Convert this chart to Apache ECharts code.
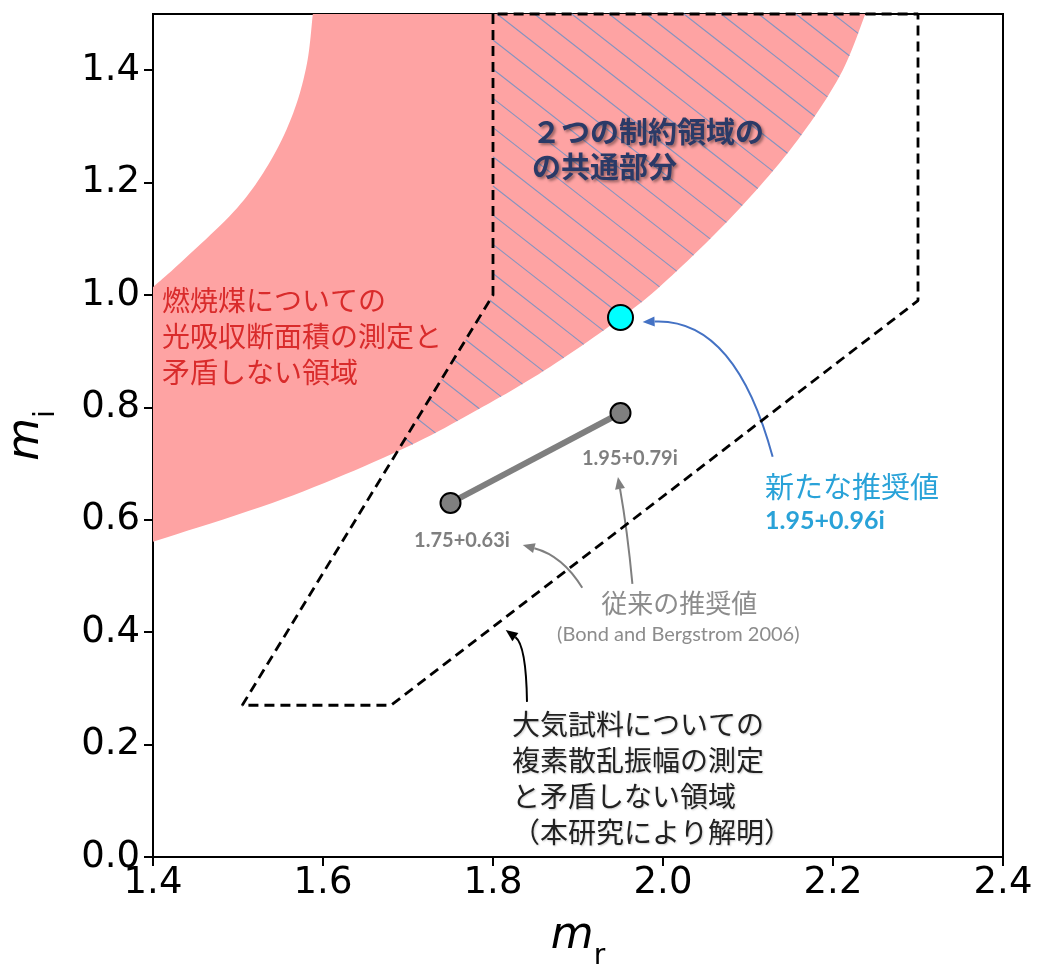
<!DOCTYPE html>
<html>
<head>
<meta charset="utf-8">
<script src="https://cdn.jsdelivr.net/npm/echarts/dist/echarts.min.js"></script>
<style>
html, body { margin: 0; padding: 0; background: #fff; }
#chart { width: 1038px; height: 965px; }
</style>
</head>
<body>
<div id="chart"></div>
<script>
// 燃焼煤の光吸収断面積と矛盾しない領域（上側・下側の境界）
const sootUpperX = [1.4, 1.437, 1.499, 1.538, 1.565, 1.581, 1.588]
const sootUpperY = [1.014, 1.064, 1.155, 1.238, 1.324, 1.411, 1.5]
const sootLowerX = [1.4, 1.553, 1.691, 1.788, 1.867, 1.952, 2.005, 2.082, 2.153, 2.208, 2.238]
const sootLowerY = [0.561, 0.637, 0.724, 0.801, 0.872, 0.961, 1.027, 1.141, 1.265, 1.390, 1.5]
// 大気試料の複素散乱振幅と矛盾しない領域（破線）
const ambientX = [1.8, 1.8, 1.505, 1.68, 2.3, 2.3, 1.8]
const ambientY = [1.5, 1.0, 0.27, 0.27, 0.99, 1.5, 1.5]
// 従来の推奨値 / 新たな推奨値
const oldX = [1.75, 1.95]
const oldY = [0.63, 0.79]
const newX = [1.95]
const newY = [0.96]

const redLines = ['燃焼煤についての', '光吸収断面積の測定と', '矛盾しない領域']
const navyLines = ['２つの制約領域の', 'の共通部分']
const blackLines = ['大気試料についての', '複素散乱振幅の測定', 'と矛盾しない領域', '（本研究により解明）']

// 矢印: [始点, 制御点, 終点]
const arrows = [
  { pts: [[2.129, 0.712], [2.085, 0.959], [1.976, 0.952]], color: '#4472c4' },
  { pts: [[1.905, 0.479], [1.882, 0.536], [1.835, 0.555]], color: '#7f7f7f' },
  { pts: [[1.964, 0.486], [1.958, 0.582], [1.947, 0.676]], color: '#7f7f7f' },
  { pts: [[1.840, 0.276], [1.839, 0.377], [1.815, 0.404]], color: '#000' }
]

const jp = '"Noto Sans CJK JP"'

function catmull(pts, n) {
  const out = []
  for (let i = 0; i < pts.length - 1; i++) {
    const p0 = pts[Math.max(i - 1, 0)], p1 = pts[i], p2 = pts[i + 1], p3 = pts[Math.min(i + 2, pts.length - 1)]
    for (let k = 0; k < n; k++) {
      const t = k / n, t2 = t * t, t3 = t2 * t
      out.push([0, 1].map(j => 0.5 * (2 * p1[j] + (-p0[j] + p2[j]) * t +
        (2 * p0[j] - 5 * p1[j] + 4 * p2[j] - p3[j]) * t2 + (-p0[j] + 3 * p1[j] - 3 * p2[j] + p3[j]) * t3)))
    }
  }
  out.push(pts[pts.length - 1])
  return out
}

function bandPixels(api) {
  const up = catmull(sootUpperX.map((x, i) => api.coord([x, sootUpperY[i]])), 12)
  const lo = catmull(sootLowerX.map((x, i) => api.coord([x, sootLowerY[i]])), 12)
  return up.concat(lo.reverse())
}

function crossings(poly, p, d) {
  const ts = []
  for (let i = 0; i < poly.length; i++) {
    const a = poly[i], b = poly[(i + 1) % poly.length]
    const e = [b[0] - a[0], b[1] - a[1]]
    const den = d[0] * e[1] - d[1] * e[0]
    if (Math.abs(den) < 1e-9) continue
    const w = [a[0] - p[0], a[1] - p[1]]
    const t = (w[0] * e[1] - w[1] * e[0]) / den
    const s = (w[0] * d[1] - w[1] * d[0]) / den
    if (s >= 0 && s < 1) ts.push(t)
  }
  ts.sort((x, y) => x - y)
  const iv = []
  for (let i = 0; i + 1 < ts.length; i += 2) iv.push([ts[i], ts[i + 1]])
  return iv
}

function overlap(A, B) {
  const out = []
  A.forEach(a => B.forEach(b => {
    const lo = Math.max(a[0], b[0]), hi = Math.min(a[1], b[1])
    if (hi > lo) out.push([lo, hi])
  }))
  return out
}

function textLines(api, lines, anchor, lh, style) {
  const p = api.coord(anchor)
  return lines.map((t, i) => ({
    type: 'text',
    style: Object.assign({ text: t, x: p[0], y: p[1] + i * lh, verticalAlign: 'middle', align: 'left' }, style)
  }))
}

const axisName = {
  rich: {
    a: { fontSize: 44, fontStyle: 'italic', fontFamily: 'DejaVu Sans', color: '#000', verticalAlign: 'bottom', padding: [0, 0, 12, 0] },
    b: { fontSize: 28, fontFamily: 'DejaVu Sans', color: '#000', verticalAlign: 'bottom' }
  }
}

const chart = echarts.init(document.getElementById('chart'))

chart.setOption({
  animation: false,
  grid: {
    left: 153, right: 35, top: 14, bottom: 108, outerBoundsMode: 'none', containLabel: false,
    show: true, borderColor: '#000', borderWidth: 2, backgroundColor: 'transparent'
  },
  xAxis: {
    type: 'value', min: 1.4, max: 2.4, interval: 0.2,
    splitLine: { show: false },
    axisLine: { lineStyle: { color: '#000', width: 2 } },
    axisTick: { length: 9, lineStyle: { color: '#000', width: 2 } },
    axisLabel: { color: '#000', fontSize: 37, fontFamily: 'DejaVu Sans', margin: 8, formatter: v => v.toFixed(1) },
    name: '{a|m}{b|r}', nameLocation: 'middle', nameGap: 58, nameTextStyle: axisName
  },
  yAxis: {
    type: 'value', min: 0, max: 1.5, interval: 0.2,
    splitLine: { show: false },
    axisLine: { lineStyle: { color: '#000', width: 2 } },
    axisTick: { length: 9, lineStyle: { color: '#000', width: 2 } },
    axisLabel: { color: '#000', fontSize: 37, fontFamily: 'DejaVu Sans', margin: 13, showMaxLabel: false, formatter: v => v.toFixed(1) },
    name: '{a|m}{b|i}', nameLocation: 'middle', nameGap: 92, nameTextStyle: axisName
  },
  series: [
    {
      type: 'custom', name: 'soot', data: [[1.9, 0.75]], silent: true,
      renderItem: (params, api) => ({ type: 'polygon', shape: { points: bandPixels(api) }, style: { fill: '#fea3a3' } })
    },
    {
      type: 'custom', name: 'hatch', data: [[1.9, 0.75]], silent: true,
      renderItem: (params, api) => {
        const band = bandPixels(api)
        const amb = ambientX.map((x, i) => api.coord([x, ambientY[i]]))
        const ang = 38 * Math.PI / 180
        const d = [Math.cos(ang), Math.sin(ang)], nrm = [-d[1], d[0]]
        const o = api.coord([ambientX[0], ambientY[0]])
        const children = []
        for (let k = -80; k <= 80; k++) {
          const c = k * 23 - 2.5
          const p0 = [o[0] + c * nrm[0], o[1] + c * nrm[1]]
          overlap(crossings(band, p0, d), crossings(amb, p0, d)).forEach(([a, b]) => {
            children.push({
              type: 'line',
              shape: { x1: p0[0] + a * d[0], y1: p0[1] + a * d[1], x2: p0[0] + b * d[0], y2: p0[1] + b * d[1] },
              style: { stroke: '#8494c0', lineWidth: 1.1 }
            })
          })
        }
        return { type: 'group', children }
      }
    },
    {
      type: 'line', name: 'ambient', data: ambientX.map((x, i) => [x, ambientY[i]]),
      symbol: 'none', clip: false, silent: true,
      lineStyle: { color: '#000', width: 2.8, type: [10, 6] }
    },
    {
      type: 'line', name: 'old', data: oldX.map((x, i) => [x, oldY[i]]),
      symbol: 'circle', symbolSize: 20, silent: true,
      lineStyle: { color: '#7f7f7f', width: 6 },
      itemStyle: { color: '#7f7f7f', borderColor: '#000', borderWidth: 2 }
    },
    {
      type: 'scatter', name: 'new', data: newX.map((x, i) => [x, newY[i]]),
      symbolSize: 25, silent: true,
      itemStyle: { color: '#00ffff', borderColor: '#000', borderWidth: 2, opacity: 1 }
    },
    {
      type: 'custom', name: 'arrows', data: [[1.9, 0.75]], silent: true,
      renderItem: (params, api) => {
        const children = []
        arrows.forEach(a => {
          const [s, c, e] = a.pts.map(p => api.coord(p))
          const dx = e[0] - c[0], dy = e[1] - c[1], L = Math.hypot(dx, dy)
          const ux = dx / L, uy = dy / L
          const hl = 12, hw = 5
          const bx = e[0] - ux * hl, by = e[1] - uy * hl
          children.push({
            type: 'bezierCurve',
            shape: { x1: s[0], y1: s[1], cpx1: c[0], cpy1: c[1], x2: bx, y2: by },
            style: { stroke: a.color, lineWidth: 2, fill: null }
          })
          children.push({
            type: 'polygon',
            shape: { points: [e, [bx - uy * hw, by + ux * hw], [bx + uy * hw, by - ux * hw]] },
            style: { fill: a.color }
          })
        })
        return { type: 'group', children }
      }
    },
    {
      type: 'custom', name: 'notes', data: [[1.9, 0.75]], silent: true,
      renderItem: (params, api) => {
        const children = [].concat(
          textLines(api, redLines, [1.4106, 0.991], 36, { fill: '#d92b2b', fontSize: 28, fontFamily: jp }),
          textLines(api, navyLines, [1.846, 1.290], 35, {
            fill: '#2b3a67', fontSize: 29, fontWeight: 'bold', fontFamily: jp,
            textShadowColor: 'rgba(0,0,0,0.4)', textShadowBlur: 3, textShadowOffsetX: 2, textShadowOffsetY: 2
          }),
          textLines(api, blackLines, [1.8224, 0.236], 36, {
            fill: '#222', fontSize: 28, fontFamily: jp,
            textShadowColor: 'rgba(0,0,0,0.2)', textShadowBlur: 2, textShadowOffsetX: 1, textShadowOffsetY: 1
          }),
          textLines(api, ['1.75+0.63i'], [1.7635, 0.563], 0, { fill: '#7f7f7f', fontSize: 20, fontWeight: 'bold', fontFamily: 'Lato', align: 'center' }),
          textLines(api, ['1.95+0.79i'], [1.961, 0.709], 0, { fill: '#7f7f7f', fontSize: 20, fontWeight: 'bold', fontFamily: 'Lato', align: 'center' }),
          textLines(api, ['従来の推奨値'], [2.019, 0.452], 0, { fill: '#8c8c8c', fontSize: 26, fontFamily: jp, align: 'center' }),
          textLines(api, ['(Bond and Bergstrom 2006)'], [2.018, 0.395], 0, { fill: '#8c8c8c', fontSize: 20, fontFamily: 'Lato', align: 'center' }),
          textLines(api, ['新たな推奨値'], [2.12, 0.658], 0, { fill: '#29a2d8', fontSize: 29, fontFamily: jp }),
          textLines(api, ['1.95+0.96i'], [2.12, 0.598], 0, { fill: '#29a2d8', fontSize: 25, fontWeight: 'bold', fontFamily: 'Lato' })
        )
        return { type: 'group', children }
      }
    }
  ]
})
</script>
</body>
</html>
